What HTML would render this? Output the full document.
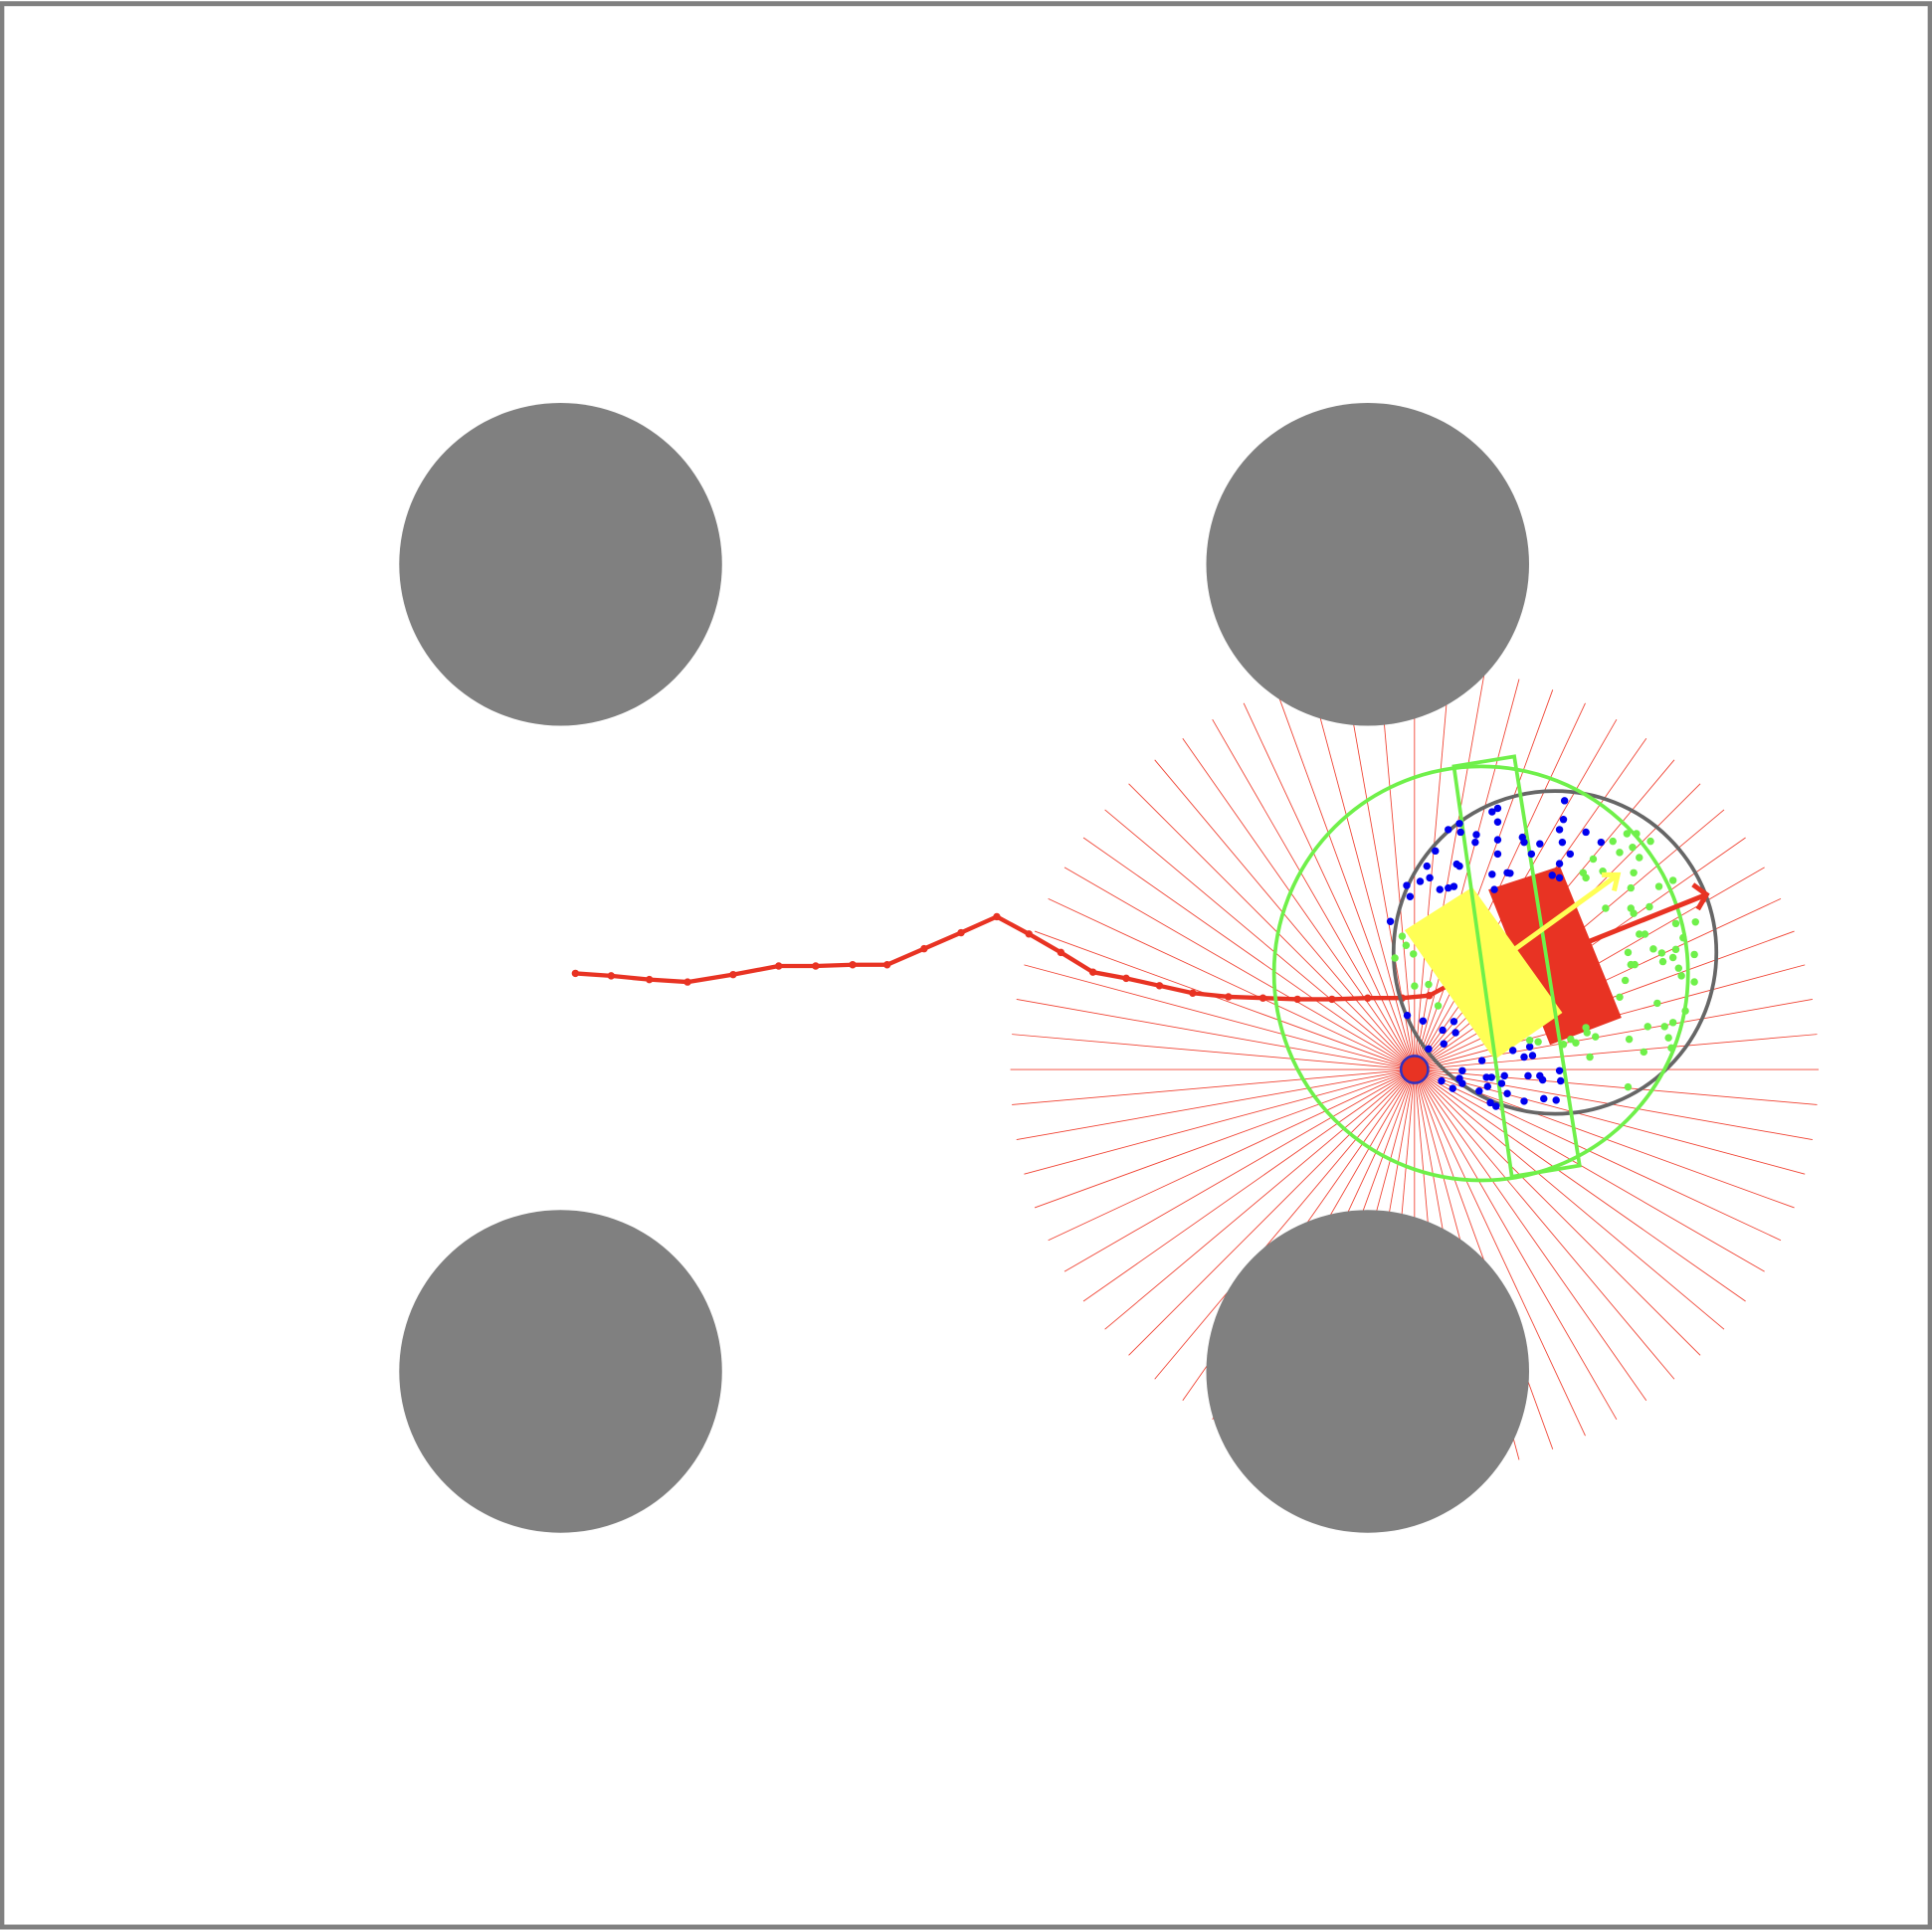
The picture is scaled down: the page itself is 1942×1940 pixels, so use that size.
<!DOCTYPE html>
<html><head><meta charset="utf-8"><style>
html,body{margin:0;padding:0;background:#fff;}
svg{display:block;}
</style></head><body>
<svg id="scene" width="1942" height="1940" viewBox="0 0 1568 1566.4" preserveAspectRatio="none" xmlns="http://www.w3.org/2000/svg">
<rect x="1.5" y="3" width="1565" height="1561" fill="#fff" stroke="#808080" stroke-width="4"/>
<g id="rays"></g>
<g id="obstacles"></g>
<path id="traj" fill="none" stroke="#e83323" stroke-width="3.5" stroke-linejoin="round"/>
<g id="trajdots"></g>
<circle cx="1262" cy="773" r="131" fill="none" stroke="#666" stroke-width="3"/>
<circle cx="1202" cy="790" r="168" fill="none" stroke="#6ff04a" stroke-width="3"/>
<polygon points="1208,722 1266,703 1316,826 1258,848" fill="#e83323"/>
<polygon points="1140,755 1195,720 1268,822 1213,860" fill="#ffff55"/>
<polygon points="1180,622 1229,614 1282,946 1227,955" fill="none" stroke="#6ff04a" stroke-width="3"/>
<g id="blue"></g>
<g id="green"></g>
<g stroke="#ffff55" stroke-width="4" fill="none"><line x1="1230" y1="770" x2="1313" y2="710"/><polyline points="1300,710 1313,710 1310,723"/></g>
<g stroke="#e83323" stroke-width="4" fill="none"><line x1="1290" y1="764" x2="1385" y2="726"/><polyline points="1374,718 1385,726 1378,738"/></g>
<circle cx="1148" cy="868" r="11" fill="#e83323" stroke="#3030c0" stroke-width="2"/>
</svg>
<script>
const obstacleX=[455,1110,455,1110];
const obstacleY=[458,458,1113,1113];
const obstacleR=131;
const rayCount=72;
const rayLength=328;
const laserOrigin=[1148,868];
const trajX=[467,496,527,558,595,632,662,692,720,750,780,809,835,861,887,914,941,968,997,1025,1053,1081,1110,1138,1160,1175];
const trajY=[790,792,795,797,791,784,784,783,783,770,757,744,758,773,789,794,800,806,809,810,811,811,810,810,808,800];
const blueZ=[[1007,303],[1005,340],[998,360],[1003,385],[1045,365],[1072,385],[1017,408],[998,427],[985,450],[998,455],[963,388],[948,408],[932,375],[935,385],[888,318],[878,325],[888,345],[888,380],[888,408],[878,448],[905,445],[910,446],[882,478],[850,370],[848,385],[820,348],[822,365],[800,360],[777,402],[762,432],[750,462],[767,455],[726,470],[732,492],[815,428],[820,432],[810,472],[800,475],[785,478],[697,541],[727,726],[755,737],[790,755],[810,738],[813,760],[765,792],[792,782],[860,815],[915,795],[945,788],[935,808],[950,805],[825,835],[820,850],[825,860],[808,870],[788,855],[868,848],[877,848],[900,845],[895,860],[905,880],[870,866],[855,875],[875,898],[885,905],[935,895],[970,890],[992,893],[968,853],[1000,855],[998,835],[942,845],[963,845]];
const greenZ=[[1093,383],[1118,368],[1135,368],[1160,383],[1105,405],[1128,395],[1140,415],[1058,418],[1040,445],[1075,442],[1045,455],[1130,445],[1125,475],[1175,472],[1200,460],[1080,515],[1125,515],[1158,512],[1130,525],[1205,545],[1240,542],[1140,566],[1150,566],[1218,573],[1120,602],[1165,595],[1180,603],[1205,596],[1238,606],[1182,620],[1200,612],[1125,626],[1132,626],[1210,633],[1215,648],[1238,660],[1115,657],[1105,690],[1172,702],[1222,717],[1200,740],[1185,748],[1155,748],[1062,768],[1047,760],[1045,750],[1018,773],[1027,780],[1005,783],[1122,773],[1148,798],[1192,770],[1197,790],[1052,808],[1120,867],[718,570],[725,588],[705,613],[738,605],[740,668],[765,665],[782,707],[945,775],[960,778]];
const NS='http://www.w3.org/2000/svg';
function mk(t,a){const e=document.createElementNS(NS,t);for(const k in a)e.setAttribute(k,a[k]);return e;}
function zx(v){return 810.6+v*0.456;}
function zy(v){return 525+v*0.412;}
const rays=document.getElementById('rays');
for(let i=0;i<rayCount;i++){const a=i*2*Math.PI/rayCount;
const l=mk('line',{x1:laserOrigin[0],y1:laserOrigin[1],x2:laserOrigin[0]+rayLength*Math.cos(a),y2:laserOrigin[1]+rayLength*Math.sin(a),stroke:'#f04030','stroke-width':0.7});


rays.appendChild(l);}
const obs=document.getElementById('obstacles');
for(let i=0;i<obstacleX.length;i++){const c=mk('circle',{cx:obstacleX[i],cy:obstacleY[i],r:obstacleR,fill:'#808080'});


obs.appendChild(c);}
document.getElementById('traj').setAttribute('d',trajX.map((x,i)=>(i?'L':'M')+x+' '+trajY[i]).join(' '));
const td=document.getElementById('trajdots');
for(let i=0;i<trajX.length;i++){const c=mk('circle',{cx:trajX[i],cy:trajY[i],r:3,fill:'#e83323'});


td.appendChild(c);}
const bg=document.getElementById('blue');
blueZ.forEach(p=>{const c=mk('circle',{cx:zx(p[0]),cy:zy(p[1]),r:3,fill:'#0000ee'});


bg.appendChild(c);});
const gg=document.getElementById('green');
greenZ.forEach(p=>{const c=mk('circle',{cx:zx(p[0]),cy:zy(p[1]),r:3,fill:'#6ff04a'});


gg.appendChild(c);});
</script>
</body></html>
